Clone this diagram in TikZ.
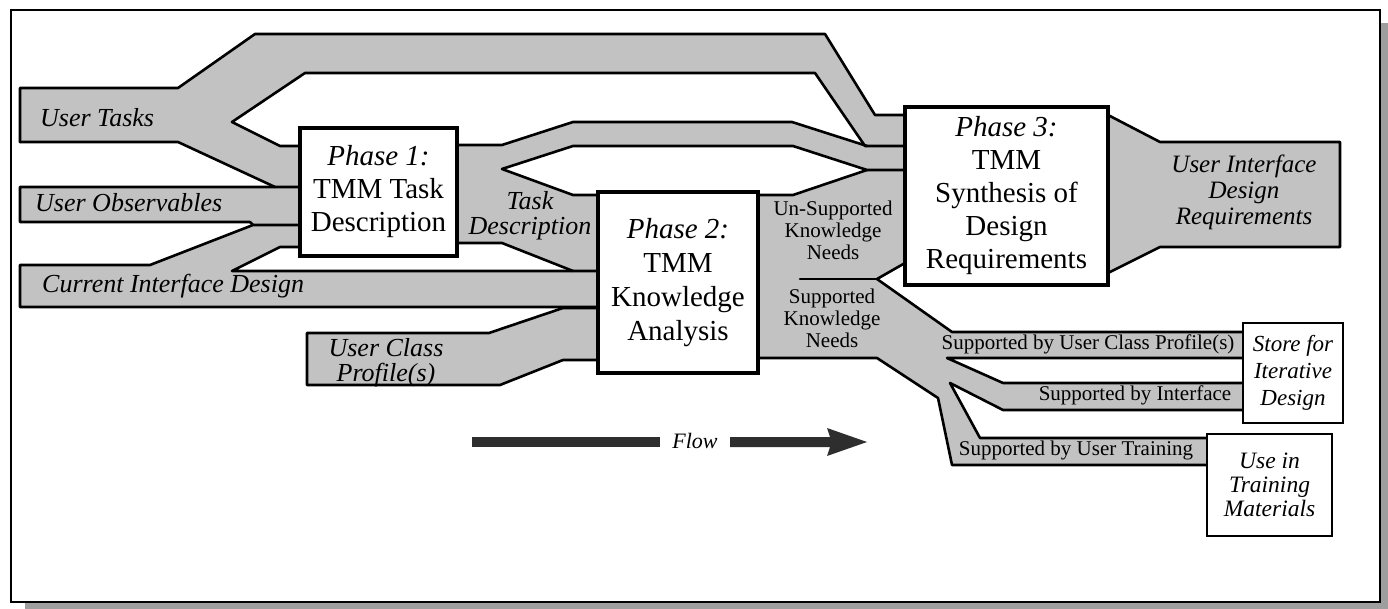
\documentclass[tikz,border=0pt]{standalone}
\usepackage{fontspec}
\setmainfont{Liberation Serif}
\definecolor{bandgray}{gray}{0.76}
\definecolor{shadowgray}{gray}{0.62}
\definecolor{flowdark}{gray}{0.18}
\begin{document}
\begin{tikzpicture}[x=1pt,y=-1pt,
  band/.style={fill=bandgray,draw=none},
  rim/.style={line width=2.6pt,line join=round,line cap=round},
  phasebox/.style={draw,fill=white,line width=4pt,inner sep=0pt,align=center,
    font=\fontsize{29}{33}\selectfont},
  endbox/.style={draw,fill=white,line width=2.2pt,inner sep=0pt,align=center,
    font=\fontsize{23}{27}\selectfont\itshape},
  bandlabel/.style={inner sep=0pt,font=\fontsize{26}{25}\selectfont\itshape,align=center},
  smalllabel/.style={inner sep=0pt,font=\fontsize{21}{22}\selectfont,align=center}
]
% page and frame
\useasboundingbox (0,0) rectangle (1388,609);
\fill[white] (0,0) rectangle (1388,609);
\fill[shadowgray] (1381,23) rectangle (1388,609);
\fill[shadowgray] (25,603) rectangle (1388,609);
\draw[line width=2pt] (10.5,10.5) rectangle (1379.5,601.5);

% ---- grey flow bands ----
% User Tasks
\fill[band] (20,88) -- (178,88) -- (255,34) -- (825,34) -- (875,115) -- (905,115)
  -- (905,146) -- (865,146) -- (815,73) -- (305,73) -- (232,122) -- (280,146)
  -- (300,146) -- (300,187) -- (275,187) -- (178,142) -- (20,142) -- cycle;
% User Observables
\fill[band] (20,187) -- (300,187) -- (300,225) -- (253,225) -- (250,222) -- (20,222) -- cycle;
% Current Interface Design
\fill[band] (20,265) -- (150,265) -- (253,225) -- (300,225) -- (300,247) -- (280,247)
  -- (232,271) -- (598,271) -- (598,307) -- (20,307) -- cycle;
% Task Description
\fill[band] (457,145) -- (502,145) -- (573,122) -- (792,122) -- (867,146) -- (905,146)
  -- (905,170) -- (867,170) -- (793,146) -- (573,146) -- (502,169) -- (573,195)
  -- (598,195) -- (598,271) -- (573,271) -- (502,243) -- (457,243) -- cycle;
% User Class Profile(s)
\fill[band] (307,333) -- (489,333) -- (563,308) -- (598,308) -- (598,360) -- (563,360)
  -- (500,385) -- (307,385) -- cycle;
% knowledge needs leaving phase 2
\fill[band] (758,195) -- (793,195) -- (867,170) -- (905,170) -- (905,263) -- (877,279)
  -- (952,332) -- (1243,332) -- (1243,358) -- (947,358) -- (1003,383) -- (1243,383)
  -- (1243,410) -- (1003,410) -- (950,383) -- (980,438) -- (1207,438) -- (1207,465)
  -- (952,465) -- (938,398) -- (877,358) -- (758,358) -- cycle;
% design requirements leaving phase 3
\fill[band] (1108,115) -- (1160,142) -- (1340,142) -- (1340,247) -- (1160,247) -- (1108,273) -- cycle;

% ---- band outlines ----
\draw[rim] (20,142) -- (20,88) -- (178,88) -- (255,34) -- (825,34) -- (875,115) -- (905,115);
\draw[rim] (905,146) -- (865,146) -- (815,73) -- (305,73) -- (232,122) -- (280,146) -- (300,146);
\draw[rim] (300,187) -- (275,187) -- (178,142) -- (20,142);
\draw[rim] (275,187) -- (20,187) -- (20,222) -- (250,222) -- (253,225);
\draw[rim] (300,225) -- (253,225) -- (150,265) -- (20,265) -- (20,307) -- (598,307);
\draw[rim] (300,247) -- (280,247) -- (232,271) -- (598,271);
\draw[rim] (457,145) -- (502,145) -- (573,122) -- (792,122) -- (867,146);
\draw[rim] (905,170) -- (867,170) -- (793,146) -- (573,146) -- (502,169) -- (573,195) -- (598,195);
\draw[rim] (573,271) -- (502,243) -- (457,243);
\draw[rim] (598,308) -- (563,308) -- (489,333) -- (307,333) -- (307,385) -- (500,385) -- (563,360) -- (598,360);
\draw[rim] (758,195) -- (793,195) -- (867,170);
\draw[rim] (905,263) -- (877,279) -- (952,332) -- (1243,332);
\draw[rim] (800,279) -- (877,279);
\draw[rim] (1243,358) -- (947,358) -- (1003,383) -- (1243,383);
\draw[rim] (1243,410) -- (1003,410) -- (950,383) -- (980,438) -- (1207,438);
\draw[rim] (1207,465) -- (952,465) -- (938,398) -- (877,358) -- (758,358);
\draw[rim] (1108,115) -- (1160,142) -- (1340,142) -- (1340,247) -- (1160,247) -- (1108,273);

% ---- phase boxes ----
\node[phasebox,minimum width=157pt,minimum height=128pt] (ph1) at (378.5,192)
  {\itshape Phase 1:\\TMM Task\\Description};
\node[phasebox,minimum width=160pt,minimum height=181pt,font=\fontsize{29}{34}\selectfont] (ph2) at (678,282.5)
  {\itshape Phase 2:\\TMM\\Knowledge\\Analysis};
\node[phasebox,minimum width=203pt,minimum height=178pt] (ph3) at (1006.5,196)
  {\itshape Phase 3:\\TMM\\Synthesis of\\Design\\Requirements};

% ---- destination boxes ----
\node[endbox,minimum width=100pt,minimum height=100pt] (store) at (1293,373)
  {Store for\\Iterative\\Design};
\node[endbox,minimum width=125pt,minimum height=102pt,font=\fontsize{23.5}{24}\selectfont\itshape] (train) at (1269.5,485)
  {Use in\\Training\\Materials};

% ---- band labels ----
\node[bandlabel,anchor=base west] (tasks) at (40,127) {User Tasks};
\node[bandlabel,anchor=base west] (observ) at (35,212) {User Observables};
\node[bandlabel,anchor=base west] (cid) at (42,293) {Current Interface Design};
\node[bandlabel] (ucp) at (386,363) {User Class\\Profile(s)};
\node[bandlabel] (taskdesc) at (530,216) {Task\\Description};
\node[bandlabel,font=\fontsize{25}{26}\selectfont\itshape] (uidr) at (1244,192)
  {User Interface\\Design\\Requirements};
\node[smalllabel] (unsup) at (833,230) {Un-Supported\\Knowledge\\Needs};
\node[smalllabel] (sup) at (832,318) {Supported\\Knowledge\\Needs};
\node[smalllabel,anchor=base] (byprofile) at (1088,349) {Supported by User Class Profile(s)};
\node[smalllabel,anchor=base] (byiface) at (1135,400) {Supported by Interface};
\node[smalllabel,anchor=base] (bytrain) at (1076,455) {Supported by User Training};

% ---- flow arrow ----
\node[inner sep=0pt,font=\fontsize{22}{22}\selectfont\itshape,anchor=base] (flow) at (695,448) {Flow};
\fill[flowdark] (472,437) rectangle (660,447);
\fill[flowdark] (730,437) -- (830,437) -- (827,428) -- (867,442) -- (827,456) -- (830,447) -- (730,447) -- cycle;
\end{tikzpicture}
\end{document}
